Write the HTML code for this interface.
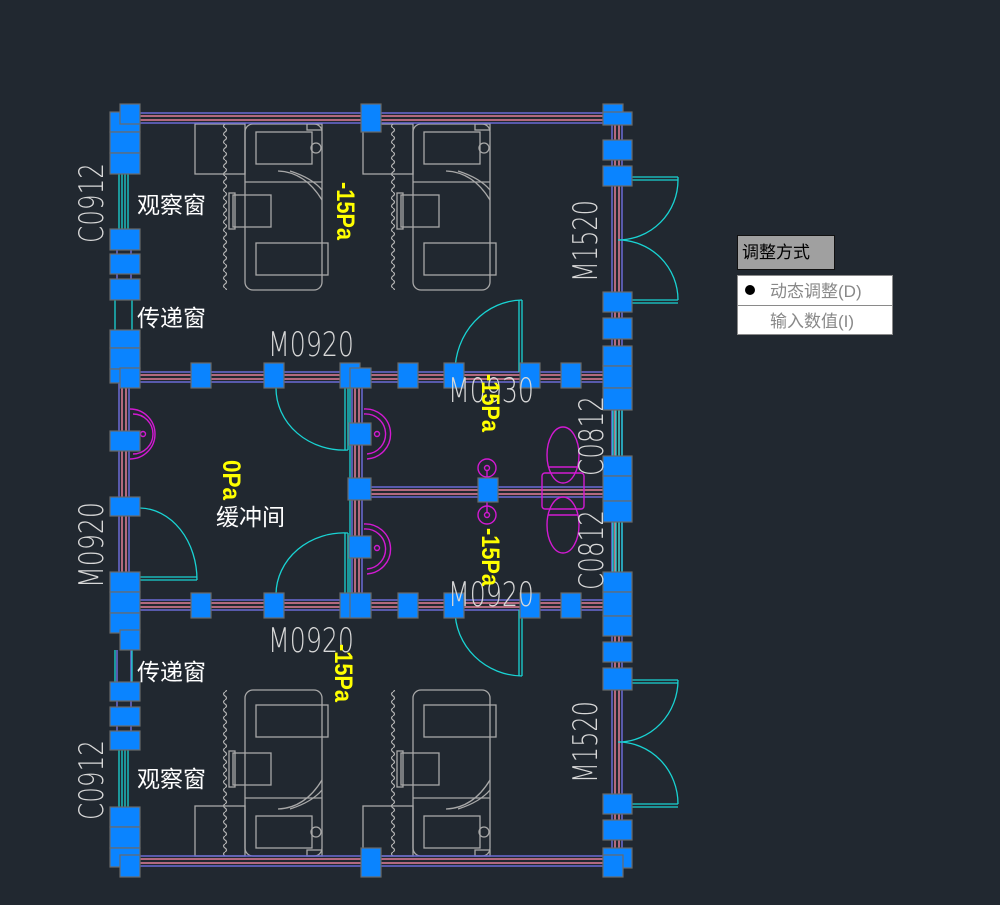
<!DOCTYPE html>
<html><head><meta charset="utf-8"><style>
html,body{margin:0;padding:0;background:#212830;}
svg{display:block}
.t{font-family:"Liberation Sans","Noto Sans CJK SC",sans-serif;}
.c{font-family:"DejaVu Sans Light","DejaVu Sans","Liberation Sans",sans-serif;}
</style></head><body>
<svg width="1000" height="905" viewBox="0 0 1000 905" xmlns="http://www.w3.org/2000/svg">
<defs>
<pattern id="wv" x="0" y="0" width="10" height="8" patternUnits="userSpaceOnUse">
<path d="M5,0 Q8,2 5,4 Q2,6 5,8" fill="none" stroke="#b4b4b4" stroke-width="1.2"/>
</pattern>
<g id="unit" fill="none" stroke="#a8a8a8" stroke-width="1.3">
<rect x="195" y="124" width="50" height="50"/>
<rect x="221" y="124" width="10" height="166" fill="url(#wv)" stroke="none"/>
<rect x="245" y="124" width="77" height="166" rx="8"/>
<rect x="256" y="132" width="56" height="32"/>
<circle cx="316" cy="148" r="5"/>
<line x1="245" y1="182" x2="322" y2="182"/>
<path d="M278,171 Q305,172 322,200"/>
<path d="M290,171 Q312,178 322,190"/>
<rect x="233" y="195" width="38" height="32"/>
<rect x="229" y="193" width="6" height="36"/>
<rect x="256" y="243" width="72" height="32"/>
<rect x="307" y="124" width="15" height="6"/>
</g>
</defs>
<rect width="1000" height="905" fill="#212830"/>

<use href="#unit"/>
<use href="#unit" transform="translate(168,0)"/>
<use href="#unit" transform="translate(0,980) scale(1,-1)"/>
<use href="#unit" transform="translate(168,980) scale(1,-1)"/>

<g stroke-width="1.5" fill="none">
<g stroke="#6b6bd6">
<line x1="130" y1="113" x2="615" y2="113"/><line x1="130" y1="123" x2="615" y2="123"/>
<line x1="130" y1="856" x2="615" y2="856"/><line x1="130" y1="866" x2="615" y2="866"/>
<line x1="130" y1="372" x2="605" y2="372"/><line x1="130" y1="382" x2="605" y2="382"/>
<line x1="130" y1="600" x2="605" y2="600"/><line x1="130" y1="610" x2="605" y2="610"/>
<line x1="360" y1="487" x2="605" y2="487"/><line x1="360" y1="497" x2="605" y2="497"/>
<line x1="352" y1="380" x2="352" y2="610"/><line x1="362" y1="380" x2="362" y2="610"/>
<line x1="119" y1="383" x2="119" y2="572"/><line x1="129" y1="383" x2="129" y2="572"/>
<line x1="612" y1="124" x2="612" y2="866"/><line x1="622" y1="124" x2="622" y2="866"/>
<line x1="117" y1="250" x2="117" y2="300"/><line x1="131" y1="250" x2="131" y2="300"/>
<line x1="117" y1="650" x2="117" y2="750"/><line x1="131" y1="650" x2="131" y2="750"/>
</g>
<g stroke="#e47f98">
<line x1="130" y1="116" x2="615" y2="116"/><line x1="130" y1="120" x2="615" y2="120"/>
<line x1="130" y1="859" x2="615" y2="859"/><line x1="130" y1="863" x2="615" y2="863"/>
<line x1="130" y1="375" x2="605" y2="375"/><line x1="130" y1="379" x2="605" y2="379"/>
<line x1="130" y1="603" x2="605" y2="603"/><line x1="130" y1="607" x2="605" y2="607"/>
<line x1="360" y1="490" x2="605" y2="490"/><line x1="360" y1="494" x2="605" y2="494"/>
<line x1="355" y1="380" x2="355" y2="610"/><line x1="359" y1="380" x2="359" y2="610"/>
<line x1="122" y1="383" x2="122" y2="572"/><line x1="126" y1="383" x2="126" y2="572"/>
<line x1="615" y1="124" x2="615" y2="866"/><line x1="619" y1="124" x2="619" y2="866"/>
</g>
</g>

<g stroke="#19d3d3" stroke-width="1.3" fill="none">
<line x1="119" y1="174" x2="119" y2="229"/><line x1="122" y1="174" x2="122" y2="229"/><line x1="125" y1="174" x2="125" y2="229"/><line x1="128" y1="174" x2="128" y2="229"/>
<line x1="119" y1="750" x2="119" y2="807"/><line x1="122" y1="750" x2="122" y2="807"/><line x1="125" y1="750" x2="125" y2="807"/><line x1="128" y1="750" x2="128" y2="807"/>
<line x1="115" y1="300" x2="115" y2="330"/><line x1="132" y1="300" x2="132" y2="330"/>
<line x1="115" y1="650" x2="115" y2="682"/><line x1="132" y1="650" x2="132" y2="682"/>
<line x1="613" y1="410" x2="613" y2="456"/><line x1="616" y1="410" x2="616" y2="456"/><line x1="619" y1="410" x2="619" y2="456"/><line x1="622" y1="410" x2="622" y2="456"/>
<line x1="613" y1="522" x2="613" y2="572"/><line x1="616" y1="522" x2="616" y2="572"/><line x1="619" y1="522" x2="619" y2="572"/><line x1="622" y1="522" x2="622" y2="572"/>
<line x1="350" y1="385" x2="350" y2="600"/>
<path d="M276,388 A68,62 0 0 0 348,450"/><line x1="348" y1="388" x2="348" y2="450"/><line x1="345" y1="388" x2="345" y2="450"/>
<path d="M276,594 A68,62 0 0 1 348,533"/><line x1="348" y1="533" x2="348" y2="594"/><line x1="345" y1="533" x2="345" y2="594"/>
<path d="M140,508 A58,72 0 0 1 197,580"/><line x1="140" y1="580" x2="197" y2="580"/><line x1="140" y1="577" x2="197" y2="577"/>
<path d="M455,372 A68,72 0 0 1 522,300"/><line x1="522" y1="300" x2="522" y2="372"/><line x1="519" y1="300" x2="519" y2="372"/>
<path d="M455,610 A68,66 0 0 0 522,676"/><line x1="522" y1="610" x2="522" y2="676"/><line x1="519" y1="610" x2="519" y2="676"/>
<line x1="632" y1="177" x2="678" y2="177"/><line x1="632" y1="180" x2="678" y2="180"/><line x1="678" y1="177" x2="678" y2="180"/>
<path d="M678,180 A60,60 0 0 1 618,240 A60,60 0 0 1 678,300"/>
<line x1="632" y1="300" x2="678" y2="300"/><line x1="632" y1="303" x2="678" y2="303"/>
<line x1="632" y1="680" x2="678" y2="680"/><line x1="632" y1="683" x2="678" y2="683"/>
<path d="M678,680 A60,62 0 0 1 618,742 A60,62 0 0 1 678,804"/>
<line x1="632" y1="804" x2="678" y2="804"/><line x1="632" y1="807" x2="678" y2="807"/>
</g>

<g stroke="#d21ad2" stroke-width="1.4" fill="none">
<path d="M130,409 A25,25 0 1 1 130,459"/><path d="M133,414 A20,20 0 1 1 133,454"/><circle cx="143" cy="434" r="2.5"/>
<path d="M364,409 A25,25 0 0 1 367,459"/><path d="M364,414 A20,20 0 0 1 367,454"/><circle cx="377" cy="434" r="2.5"/>
<path d="M364,524 A25,25 0 0 1 367,574"/><path d="M364,529 A20,20 0 0 1 367,569"/><circle cx="377" cy="548" r="2.5"/>
<circle cx="487" cy="468" r="9"/><circle cx="487" cy="468" r="2.5"/><line x1="487" y1="470" x2="487" y2="480"/>
<circle cx="487" cy="515" r="9"/><circle cx="487" cy="515" r="2.5"/><line x1="487" y1="500" x2="487" y2="512"/>
<rect x="542" y="473" width="42" height="36" rx="3"/>
<ellipse cx="563" cy="455" rx="16" ry="28"/><line x1="548" y1="467" x2="578" y2="467"/>
<ellipse cx="563" cy="525" rx="16" ry="28"/><line x1="548" y1="515" x2="578" y2="515"/>
</g>

<g fill="#0a84ff" stroke="#6a6a6a" stroke-width="1.2">
<rect x="110" y="112" width="30" height="20"/><rect x="120" y="104" width="20" height="20"/>
<rect x="110" y="132" width="30" height="21"/><rect x="110" y="153" width="30" height="21"/>
<rect x="110" y="229" width="30" height="21"/><rect x="110" y="254" width="30" height="20"/><rect x="110" y="279" width="30" height="21"/>
<rect x="110" y="330" width="30" height="18"/><rect x="110" y="348" width="30" height="21"/><rect x="110" y="369" width="20" height="14"/><rect x="120" y="368" width="20" height="20"/>
<rect x="110" y="431" width="30" height="20"/>
<rect x="110" y="497" width="30" height="19"/>
<rect x="110" y="572" width="30" height="20"/><rect x="110" y="592" width="30" height="21"/><rect x="110" y="613" width="30" height="20"/><rect x="120" y="630" width="20" height="20"/>
<rect x="110" y="682" width="30" height="19"/><rect x="110" y="707" width="30" height="19"/><rect x="110" y="731" width="30" height="19"/>
<rect x="110" y="807" width="30" height="20"/><rect x="110" y="827" width="30" height="21"/><rect x="110" y="848" width="30" height="19"/><rect x="120" y="855" width="20" height="22"/>
<rect x="603" y="104" width="20" height="20"/><rect x="603" y="112" width="29" height="13"/>
<rect x="603" y="140" width="29" height="20"/><rect x="603" y="166" width="29" height="20"/>
<rect x="603" y="292" width="29" height="20"/><rect x="603" y="318" width="29" height="21"/>
<rect x="603" y="346" width="29" height="20"/><rect x="603" y="366" width="29" height="22"/><rect x="603" y="388" width="29" height="22"/>
<rect x="603" y="456" width="29" height="20"/><rect x="603" y="476" width="29" height="25"/><rect x="603" y="501" width="29" height="21"/>
<rect x="603" y="572" width="29" height="20"/><rect x="603" y="592" width="29" height="24"/><rect x="603" y="616" width="29" height="20"/>
<rect x="603" y="642" width="29" height="20"/><rect x="603" y="668" width="29" height="22"/>
<rect x="603" y="794" width="29" height="20"/><rect x="603" y="820" width="29" height="20"/><rect x="603" y="848" width="29" height="20"/><rect x="603" y="855" width="20" height="22"/>
<rect x="361" y="104" width="20" height="28"/>
<rect x="361" y="848" width="20" height="29"/>
<rect x="191" y="363" width="20" height="25"/><rect x="264" y="363" width="20" height="25"/>
<rect x="340" y="363" width="20" height="25"/><rect x="350" y="368" width="21" height="20"/>
<rect x="398" y="363" width="20" height="25"/><rect x="444" y="363" width="20" height="25"/>
<rect x="520" y="363" width="20" height="25"/><rect x="561" y="363" width="20" height="25"/>
<rect x="191" y="593" width="20" height="25"/><rect x="264" y="593" width="20" height="25"/>
<rect x="340" y="593" width="20" height="25"/><rect x="350" y="593" width="21" height="25"/>
<rect x="398" y="593" width="20" height="25"/><rect x="444" y="593" width="20" height="25"/>
<rect x="520" y="593" width="20" height="25"/><rect x="561" y="593" width="20" height="25"/>
<rect x="349" y="423" width="22" height="22"/><rect x="348" y="478" width="23" height="22"/>
<rect x="478" y="478" width="20" height="24"/><rect x="349" y="536" width="22" height="22"/>
</g>

<g class="c" fill="#d8d8d8" font-size="34" font-weight="200">
<text x="268" y="356" textLength="86" lengthAdjust="spacingAndGlyphs">M0920</text>
<text x="268" y="652" textLength="86" lengthAdjust="spacingAndGlyphs">M0920</text>
<text x="448" y="402" textLength="86" lengthAdjust="spacingAndGlyphs">M0930</text>
<text x="448" y="606" textLength="86" lengthAdjust="spacingAndGlyphs">M0920</text>
<text transform="translate(103,243) rotate(-90)" textLength="80" lengthAdjust="spacingAndGlyphs">C0912</text>
<text transform="translate(103,820) rotate(-90)" textLength="80" lengthAdjust="spacingAndGlyphs">C0912</text>
<text transform="translate(103,588) rotate(-90)" textLength="86" lengthAdjust="spacingAndGlyphs">M0920</text>
<text transform="translate(597,282) rotate(-90)" textLength="82" lengthAdjust="spacingAndGlyphs">M1520</text>
<text transform="translate(597,783) rotate(-90)" textLength="82" lengthAdjust="spacingAndGlyphs">M1520</text>
<text transform="translate(603,476) rotate(-90)" textLength="80" lengthAdjust="spacingAndGlyphs">C0812</text>
<text transform="translate(603,590) rotate(-90)" textLength="80" lengthAdjust="spacingAndGlyphs">C0812</text>
</g>
<g class="t" fill="#ffffff" font-size="23">
<text x="137" y="213">观察窗</text>
<text x="137" y="326">传递窗</text>
<text x="216" y="525">缓冲间</text>
<text x="137" y="680">传递窗</text>
<text x="137" y="787">观察窗</text>
</g>
<g class="t" fill="#ffff00" font-size="25" font-weight="bold">
<text transform="translate(337,182) rotate(90)" textLength="58" lengthAdjust="spacingAndGlyphs">-15Pa</text>
<text transform="translate(223,460) rotate(90)" textLength="40" lengthAdjust="spacingAndGlyphs">0Pa</text>
<text transform="translate(482,374) rotate(90)" textLength="58" lengthAdjust="spacingAndGlyphs">-15Pa</text>
<text transform="translate(482,528) rotate(90)" textLength="58" lengthAdjust="spacingAndGlyphs">-15Pa</text>
<text transform="translate(335,644) rotate(90)" textLength="58" lengthAdjust="spacingAndGlyphs">-15Pa</text>
</g>

<rect x="737.5" y="235.5" width="97" height="34" fill="#a0a0a0" stroke="#111" stroke-width="1"/>
<text class="t" x="742" y="258" font-size="17" fill="#000">调整方式</text>
<rect x="737.5" y="275.5" width="155" height="59" fill="#ffffff" stroke="#8a8a8a" stroke-width="1"/>
<line x1="737" y1="305.5" x2="893" y2="305.5" stroke="#8a8a8a"/>
<circle cx="750" cy="290" r="5" fill="#000"/>
<text class="t" x="770" y="297" font-size="17" fill="#888">动态调整(D)</text>
<text class="t" x="770" y="327" font-size="17" fill="#888">输入数值(I)</text>
</svg>
</body></html>
